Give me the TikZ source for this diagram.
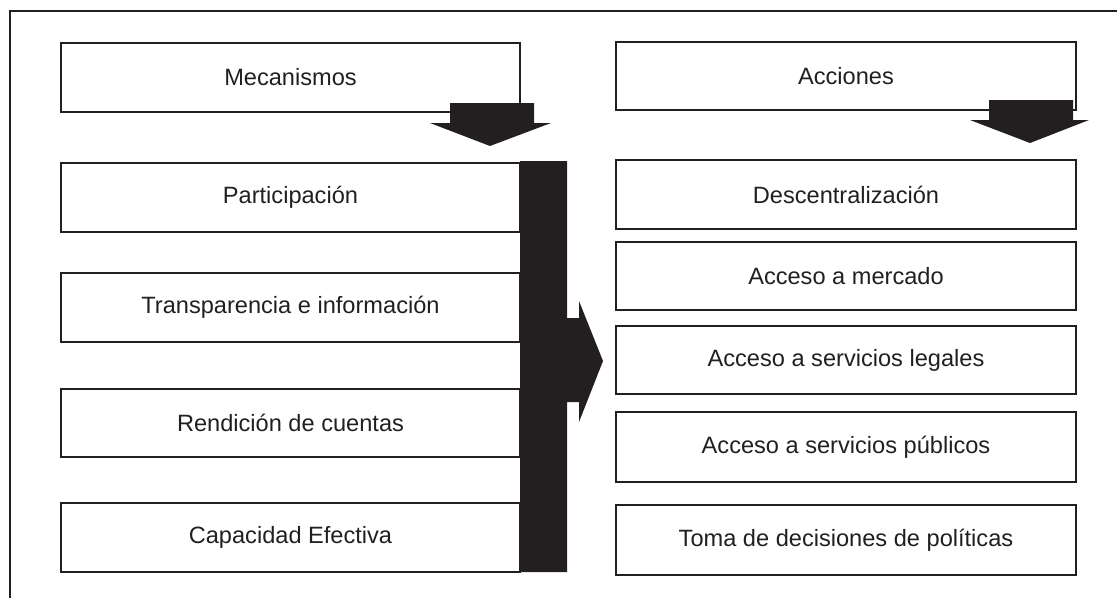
\documentclass[tikz,border=0pt]{standalone}
\usepackage{fontspec}
\setmainfont{Liberation Sans}
\definecolor{ink}{HTML}{231F20}
\begin{document}
\begin{tikzpicture}[x=1pt,y=-1pt,
  box/.style={draw=ink, line width=2.5pt, rectangle, inner sep=0pt, text=ink,
    font=\fontsize{23.6}{28}\selectfont},
  lbox/.style={box, minimum width=459pt},
  rbox/.style={box, minimum width=460pt},
  blk/.style={fill=ink, draw=none}]
\useasboundingbox (0,0) rectangle (1117,598);
\draw[ink, line width=2.5pt] (1117,11) -- (10,11) -- (10,598);
% left column
\node[lbox, minimum height=69pt] (mec) at (290.5,77.5) {Mecanismos};
\node[lbox, minimum height=69pt] (par) at (290.5,197.5) {Participación};
\node[lbox, minimum height=69pt] (tra) at (290.5,307.5) {Transparencia e información};
\node[lbox, minimum height=68pt] (ren) at (290.5,423) {Rendición de cuentas};
\node[lbox, minimum height=69pt] (cap) at (290.5,537.5) {Capacidad Efectiva};
% right column
\node[rbox, minimum height=68pt] (acc) at (846,76) {Acciones};
\node[rbox, minimum height=69pt] (des) at (846,194.5) {Descentralización};
\node[rbox, minimum height=68pt] (mer) at (846,276) {Acceso a mercado};
\node[rbox, minimum height=68pt] (leg) at (846,360) {Acceso a servicios legales};
\node[rbox, minimum height=70pt] (pub) at (846,447) {Acceso a servicios públicos};
\node[rbox, minimum height=70pt] (tom) at (846,540) {Toma de decisiones de políticas};
% arrows
\fill[blk] (450,103) -- (534,103) -- (534,123) -- (551,123) -- (490,146) -- (430,123) -- (450,123) -- cycle;
\fill[blk] (989,100) -- (1073,100) -- (1073,120) -- (1089,120) -- (1030,143) -- (970,120) -- (989,120) -- cycle;
\fill[blk] (520,161) -- (567,161) -- (567,318) -- (579,318) -- (579,301) -- (603,361)
  -- (579,422) -- (579,402) -- (567,402) -- (567,572) -- (520,572) -- cycle;
\end{tikzpicture}
\end{document}
